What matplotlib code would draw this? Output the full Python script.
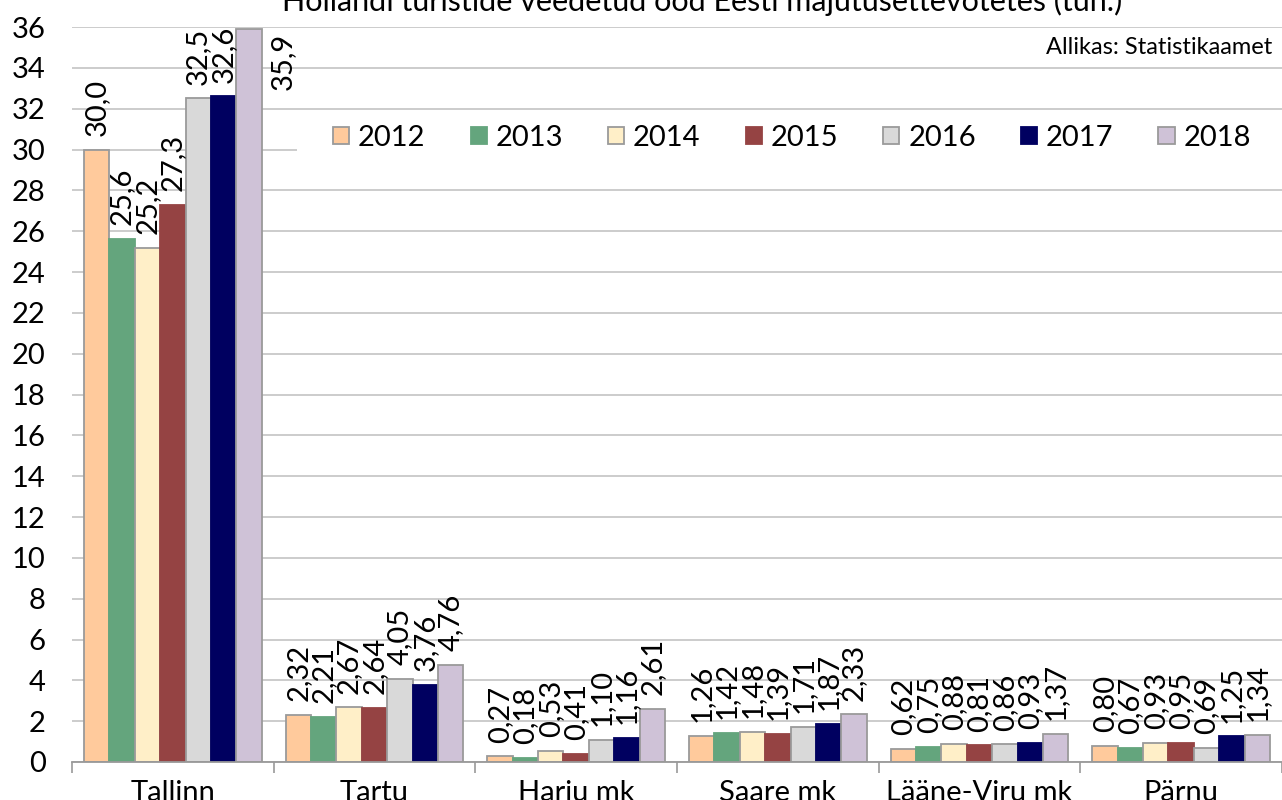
import numpy as np
import matplotlib
matplotlib.use('Agg')
import matplotlib.pyplot as plt
from matplotlib.patches import Rectangle

plt.rcParams['font.family'] = ['Lato', 'DejaVu Sans']

regions = ['Tallinn', 'Tartu', 'Harju mk', 'Saare mk', 'Lääne-Viru mk', 'Pärnu']
years = ['2012', '2013', '2014', '2015', '2016', '2017', '2018']
v2012 = [30.0, 2.32, 0.27, 1.26, 0.62, 0.80]
v2013 = [25.6, 2.21, 0.18, 1.42, 0.75, 0.67]
v2014 = [25.2, 2.67, 0.53, 1.48, 0.88, 0.93]
v2015 = [27.3, 2.64, 0.41, 1.39, 0.81, 0.95]
v2016 = [32.5, 4.05, 1.10, 1.71, 0.86, 0.69]
v2017 = [32.6, 3.76, 1.16, 1.87, 0.93, 1.25]
v2018 = [35.9, 4.76, 2.61, 2.33, 1.37, 1.34]
series = [v2012, v2013, v2014, v2015, v2016, v2017, v2018]

colors = ['#FFCA9C', '#64A57D', '#FFEFC8', '#954343', '#D9D9D9', '#000060', '#CFC2D7']
edges = ['#9A9A9A', '#64A57D', '#9A9A9A', '#954343', '#9A9A9A', '#000060', '#9A9A9A']

fig = plt.figure(figsize=(12.82, 8), dpi=100)
ax = fig.add_axes([72/1282, 1-762/800, 1-72/1282, (762-27)/800])

x = np.arange(len(regions))
w = 0.126
for i, vals in enumerate(series):
    pos = x + (i - 3) * w
    ax.bar(pos, vals, w, color=colors[i], edgecolor=edges[i], linewidth=1.3,
           label=years[i], zorder=3)
    for p, v in zip(pos, vals):
        txt = f'{v:.1f}' if v >= 10 else f'{v:.2f}'
        txt = txt.replace('.', ',')
        if v > 34:
            # no room above the top bar, label goes beside it
            ax.annotate(txt, (p + w/2, 36), xytext=(6, -4), textcoords='offset points',
                        rotation=90, ha='left', va='top', fontsize=21, zorder=4)
        else:
            ax.annotate(txt, (p, v), xytext=(0, 10), textcoords='offset points',
                        rotation=90, ha='center', va='bottom', fontsize=21, zorder=4)

ax.set_xlim(-0.5, len(regions) - 0.5)
ax.set_ylim(0, 36)
ax.set_yticks(np.arange(0, 37, 2))
ax.tick_params(axis='y', length=0, pad=19, labelsize=21)
ax.set_xticks(x)
ax.set_xticklabels(regions, fontsize=21)
ax.set_xticks(np.arange(-0.5, len(regions)), minor=True)
ax.tick_params(axis='x', which='major', length=0, pad=13)
ax.tick_params(axis='x', which='minor', length=8, color='#999999', width=1.2)
ax.grid(axis='y', color='#C8C8C8', linewidth=1.3, zorder=0)
ax.set_axisbelow(True)
for s in ['left', 'right', 'top']:
    ax.spines[s].set_visible(False)
ax.spines['bottom'].set_color('#999999')
ax.spines['bottom'].set_linewidth(1.3)
ax.spines['bottom'].set_zorder(5)

# white box behind the legend
ax.add_patch(Rectangle(((297-72)/1210, (762-165)/735), 1, 45/735,
                       transform=ax.transAxes, facecolor='white', edgecolor='none',
                       zorder=1, clip_on=False))

leg = fig.legend(loc='center', bbox_to_anchor=(792/1282, 1-138/800), ncol=7,
                 frameon=False, fontsize=21, handlelength=0.55, handleheight=0.55,
                 handletextpad=0.3, columnspacing=1.55)

fig.text(1272/1282, 1-48/800, 'Allikas: Statistikaamet', ha='right', va='center',
         fontsize=17)
fig.text(702/1282, 1-11/800, 'Hollandi turistide veedetud ööd Eesti majutusettevõtetes (tuh.)',
         ha='center', va='baseline', fontsize=22)

fig.savefig('out.png', dpi=100)
